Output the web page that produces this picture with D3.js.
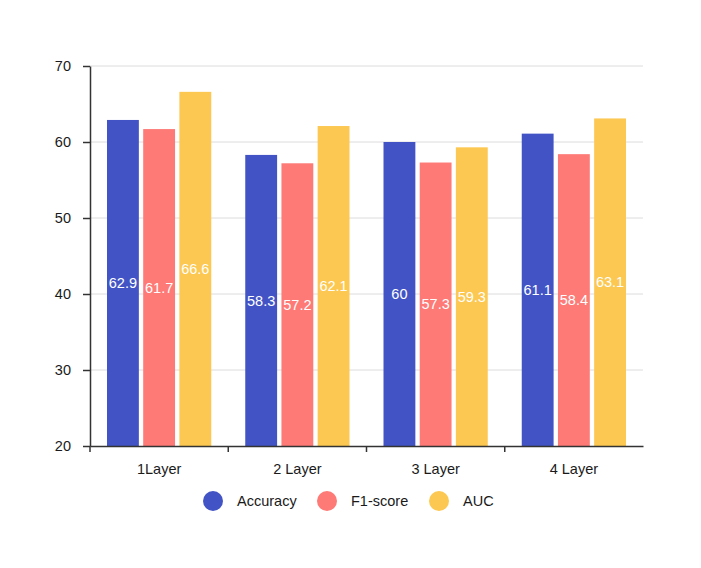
<!DOCTYPE html>
<html>
<head>
<meta charset="utf-8">
<script src="https://cdn.jsdelivr.net/npm/d3@7"></script>
<style>
  body { margin: 0; background: #fff; }
  text { font-family: "Liberation Sans", Arial, sans-serif; }
</style>
</head>
<body>
<svg width="701" height="568"></svg>
<script>
var categories = ["1Layer", "2 Layer", "3 Layer", "4 Layer"];
var seriesNames = ["Accuracy", "F1-score", "AUC"];
var accuracy = [62.9, 58.3, 60, 61.1];
var f1score = [61.7, 57.2, 57.3, 58.4];
var auc = [66.6, 62.1, 59.3, 63.1];
var yTicks = [20, 30, 40, 50, 60, 70];
var colors = ["#4254c5", "#fd7a77", "#fcc851"];

var values = [accuracy, f1score, auc];

var svg = d3.select("svg");

// scales
var x = d3.scaleBand()
    .domain(categories)
    .range([90, 643]);

var xInner = d3.scaleBand()
    .domain(seriesNames)
    .range([17, x.bandwidth() - 17])
    .paddingInner(0.12);

var y = d3.scaleLinear()
    .domain([20, 70])
    .range([446, 66]);

// gridlines
svg.append("g")
    .selectAll("line")
    .data(yTicks.slice(1))
    .enter()
    .append("line")
    .attr("x1", 90)
    .attr("x2", 643)
    .attr("y1", function(d) { return y(d); })
    .attr("y2", function(d) { return y(d); })
    .style("stroke", "#dcdcdc")
    .style("stroke-width", 1);

// bars
var groups = svg.append("g")
    .selectAll("g")
    .data(categories)
    .enter()
    .append("g")
    .attr("transform", function(d) { return "translate(" + x(d) + ",0)"; });

groups.each(function(cat, ci) {
    var g = d3.select(this);
    seriesNames.forEach(function(s, si) {
        var v = values[si][ci];
        g.append("rect")
            .attr("x", xInner(s))
            .attr("y", y(v))
            .attr("width", xInner.bandwidth())
            .attr("height", y(20) - y(v))
            .style("fill", colors[si]);
        g.append("text")
            .attr("x", xInner(s) + xInner.bandwidth() / 2)
            .attr("y", (y(v) + y(20)) / 2)
            .attr("dy", "0.35em")
            .attr("text-anchor", "middle")
            .style("fill", "#fff")
            .style("font-size", "14.5px")
            .text(v);
    });
});

// y axis
var yAxis = svg.append("g")
    .attr("transform", "translate(90,0)")
    .call(d3.axisLeft(y).tickValues(yTicks).tickSize(7).tickSizeOuter(0));
yAxis.select(".domain").style("stroke", "#333").style("stroke-width", 1.5);
yAxis.selectAll(".tick line").style("stroke", "#333").style("stroke-width", 1.5);
yAxis.selectAll("text")
    .style("font-size", "14.5px")
    .style("fill", "#1a1a1a")
    .attr("x", -19);

// x axis
var xAxis = svg.append("g")
    .attr("transform", "translate(0,446)")
    .call(d3.axisBottom(x).tickSize(0).tickSizeOuter(0));
xAxis.select(".domain").style("stroke", "#333").style("stroke-width", 1.5);
xAxis.selectAll("text")
    .style("font-size", "14.5px")
    .style("fill", "#1a1a1a")
    .attr("y", 18);

// boundary ticks between categories
svg.append("g")
    .selectAll("line")
    .data(categories)
    .enter()
    .append("line")
    .attr("x1", function(d) { return x(d); })
    .attr("x2", function(d) { return x(d); })
    .attr("y1", 446)
    .attr("y2", 452)
    .style("stroke", "#333")
    .style("stroke-width", 1.5);

// legend
var legendX = [213, 327, 439];
var legend = svg.append("g")
    .selectAll("g")
    .data(seriesNames)
    .enter()
    .append("g")
    .attr("transform", function(d, i) { return "translate(" + legendX[i] + ",501)"; });

legend.append("circle")
    .attr("r", 10)
    .style("fill", function(d, i) { return colors[i]; });

legend.append("text")
    .attr("x", 24)
    .attr("dy", "0.35em")
    .style("font-size", "14.5px")
    .style("fill", "#1a1a1a")
    .text(function(d) { return d; });
</script>
</body>
</html>
